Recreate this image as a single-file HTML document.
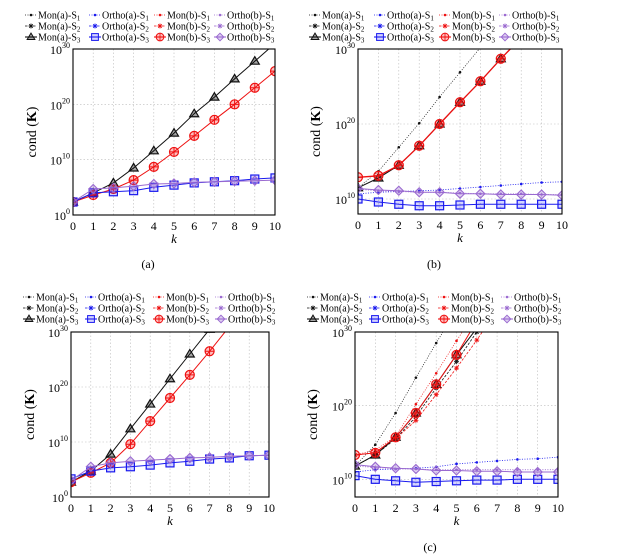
<!DOCTYPE html>
<html><head><meta charset="utf-8"><style>
html,body{margin:0;padding:0;background:#fff;}
svg{display:block;font-family:"Liberation Serif",serif;}
</style></head><body>
<svg id="fig" width="625" height="556" viewBox="0 0 625 556"></svg>
<script>
const categories=[0,1,2,3,4,5,6,7,8,9,10];
// panel (a) log10 values
const aMonA=[2.35,4,5.8,8.5,11.6,14.8,18.3,21.3,24.6,27.8,31];
const aMonB=[2.35,3.6,4.7,6.3,8.7,11.4,14.3,17.2,20,23,26];
const aOrthoA=[2.35,4,4.2,4.4,5,5.4,5.8,6,6.2,6.5,6.7];
const aOrthoB=[2.35,4.7,4.9,5.2,5.6,5.7,5.9,6,6.1,6.2,6.3];
// panel (b)
const bMonA1=[11.5,13.7,16.9,20.1,23.6,26.9,30.2,33,36,39,42];
const bMonA3=[11.5,12.8,14.5,17.1,20,22.9,25.7,28.7,31.5,34,37];
const bMonB=[12.9,13.1,14.5,17.1,20,22.9,25.7,28.7,31.5,34,37];
const bOrthoA1=[10.7,10.9,11,11.1,11.2,11.4,11.6,11.8,12,12.2,12.3];
const bOrthoA3=[10,9.6,9.3,9.1,9.1,9.2,9.3,9.3,9.3,9.3,9.3];
const bOrthoB1=[11.3,11.1,11,10.9,10.9,10.8,10.7,10.7,10.7,10.6,10.6];
const bOrthoB3=[11.4,11.2,11.1,10.9,10.9,10.7,10.7,10.6,10.6,10.6,10.5];
// panel (c) left
const cMonA=[2.7,4.7,7.8,12.4,16.9,21.5,26,30.5,35,39,43];
const cMonB=[2.7,4.4,6.2,9.6,13.8,18,22.2,26.5,31,35,39];
const cOrthoA=[3.3,4.7,5.3,5.5,5.8,6.2,6.5,6.9,7.1,7.5,7.6];
const cOrthoB=[3,5.5,6.2,6.5,6.7,6.9,7.1,7.2,7.4,7.5,7.6];
// panel (c) right
const dMonA1=[11.8,14.7,19,23.8,28.5,33,37,41,45,49,53];
const dMonA2=[11.8,13.3,15.5,18.5,22.4,26,30,34,38,42,46];
const dMonA3=[11.8,13.3,15.7,19,22.9,26.9,30.5,34,38,42,46];
const dMonB1=[13.3,14,15.8,20.2,24.4,28.8,33,37,41,45,49];
const dMonB2=[13.3,13.6,15.5,18,21.5,25.1,28.9,33,37,41,45];
const dMonB3=[13.3,13.6,15.7,19,22.9,26.9,31.5,35,39,43,47];
const dOrthoA1=[11,11.3,11.4,11.5,11.7,12.1,12.3,12.5,12.7,12.8,13];
const dOrthoA3=[10.5,10,9.8,9.6,9.7,9.8,9.9,9.9,10,10,10];
const dOrthoB1=[11.8,11.6,11.4,11.4,11.3,11.3,11.3,11.3,11.3,11.3,11.3];
const dOrthoB3=[12,11.7,11.5,11.4,11.2,11.2,11.1,11.1,11,11,11];
const ticksFull=[0,10,20,30];
const ticksPart=[10,20,30];

const NS="http://www.w3.org/2000/svg";
const svg=document.getElementById('fig');
const BLK='#111',RED='#ee1111',BLU='#1a1aee',PUR='#9a6ad0';
function el(t,a,p){const e=document.createElementNS(NS,t);for(const k in a)e.setAttribute(k,a[k]);(p||svg).appendChild(e);return e;}
function marker(g,type,x,y,c){
  if(type==='dot'){const m=el('circle',{cx:x,cy:y,r:1.3,fill:c},g);return m;}
  if(type==='star'){const m=el('path',{d:`M${x-2.5},${y}h5M${x},${y-2.5}v5M${x-1.8},${y-1.8}l3.6,3.6M${x+1.8},${y-1.8}l-3.6,3.6`,stroke:c,'stroke-width':0.8,fill:'none'},g);return m;}
  if(type==='tri'){return el('path',{d:`M${x},${y-4.5}L${x+4.5},${y+3}L${x-4.5},${y+3}Z`,stroke:c,'stroke-width':1.2,fill:'rgba(0,0,0,0.35)'},g);}
  if(type==='oplus'){const m=el('g',{},g);el('circle',{cx:x,cy:y,r:4.5,stroke:c,'stroke-width':1.2,fill:'rgba(255,0,0,0.25)'},m);el('path',{d:`M${x-4.5},${y}h9M${x},${y-4.5}v9`,stroke:c,'stroke-width':1},m);return m;}
  if(type==='square'){return el('rect',{x:x-4,y:y-4,width:8,height:8,stroke:c,'stroke-width':1.2,fill:'rgba(40,40,255,0.2)'},g);}
  if(type==='diamond'){return el('path',{d:`M${x},${y-4.5}L${x+4.5},${y}L${x},${y+4.5}L${x-4.5},${y}Z`,stroke:c,'stroke-width':1.1,fill:'rgba(150,100,210,0.3)'},g);}
}
let pid=0;
function panel(P){
  pid++;
  const g=el('g',{});
  
  
  const X=k=>P.l+(k-categories[0])*(P.r-P.l)/(categories[categories.length-1]-categories[0]);
  const Y=v=>P.b-(v-P.ymin)*(P.b-P.t)/(P.ymax-P.ymin);
  // grid
  const grid=el('g',{stroke:'#bbb','stroke-width':0.6,'stroke-dasharray':'1.5,2'},g);
  
  
  categories.forEach(k=>el('line',{x1:X(k),x2:X(k),y1:P.t,y2:P.b},grid));
  P.ticks.forEach(v=>el('line',{x1:P.l,x2:P.r,y1:Y(v),y2:Y(v)},grid));
  // clip
  const cp=el('clipPath',{id:'cp'+pid},g);el('rect',{x:P.l,y:P.t,width:P.r-P.l,height:P.b-P.t},cp);
  const plot=el('g',{'clip-path':`url(#cp${pid})`},g);
  P.series.forEach(s=>{
    const sg=el('g',{},plot);
    
    
    const d=s.data.map((v,i)=>(i?'L':'M')+X(categories[i]).toFixed(1)+','+Y(v).toFixed(1)).join('');
    const a={d:d,fill:'none',stroke:s.c,'stroke-width':s.w||1};
    if(s.dash)a['stroke-dasharray']=s.dash;
    el('path',a,sg);
    s.data.forEach((v,i)=>marker(sg,s.m,X(categories[i]),Y(v),s.c));
  });
  el('rect',{x:P.l,y:P.t,width:P.r-P.l,height:P.b-P.t,fill:'none',stroke:'#000','stroke-width':1.1},g);
  // ticks
  categories.forEach(k=>{
    const t=el('text',{x:X(k),y:P.b+15,'text-anchor':'middle','font-size':12},g);t.textContent=k;
    
    
  });
  P.ticks.forEach(v=>{
    const t=el('text',{x:P.l-3,y:Y(v)+5,'text-anchor':'end','font-size':12},g);
    t.innerHTML='10<tspan dy="-6" font-size="8">'+v+'</tspan>';
    
    
  });
  const xl=el('text',{x:(P.l+P.r)/2,y:P.b+28,'text-anchor':'middle','font-size':13,'font-style':'italic'},g);
  xl.textContent='k';
  
  
  const yl=el('text',{x:0,y:0,'text-anchor':'middle','font-size':14,transform:`translate(${P.yl},${(P.t+P.b)/2}) rotate(-90)`},g);
  yl.innerHTML='cond (<tspan font-weight="bold">K</tspan>)';
  
  
  // legend
  const lg=el('g',{'font-size':10},g);
  
  
  const names=[['Mon(a)',BLK],['Ortho(a)',BLU],['Mon(b)',RED],['Ortho(b)',PUR]];
  const mk=[['dot','star','tri'],['dot','star','square'],['dot','star','oplus'],['dot','star','diamond']];
  const dashes=[['1,1.5','2.5,1.5',null]];
  names.forEach((n,ci)=>{
    [0,1,2].forEach(ri=>{
      const y=P.lgy[ri];const tx=P.lgx[ci];
      const e=el('g',{},lg);
      
      
      const la={x1:tx-13,x2:tx-1,y1:y,y2:y,stroke:n[1],'stroke-width':ri==2?1.1:0.7};
      if(dashes[0][ri])la['stroke-dasharray']=dashes[0][ri];
      el('line',la,e);
      const mm=marker(e,mk[ci][ri],tx-7,y,n[1]);
      if(ri==2)mm.setAttribute('transform',`translate(${tx-7},${y}) scale(0.85) translate(${-(tx-7)},${-y})`);
      const t=el('text',{x:tx,y:y+3.5},e);
      t.innerHTML=n[0]+'-S<tspan dy="2" font-size="7">'+(ri+1)+'</tspan>';
    });
  });
  const cap=P.cap&&el('text',{x:P.capx,y:P.capy,'text-anchor':'middle','font-size':12},g);
  if(cap){cap.textContent=P.cap;}
}
panel({name:'panel-a',l:73,r:275,t:49,b:215,ymin:0,ymax:30,ticks:ticksFull,yl:36,
  lgx:[38,102,167,227],lgy:[15,26,37],cap:'(a)',capx:148,capy:268,
  series:[
   {id:'mon-a-s3',c:BLK,m:'tri',data:aMonA},
   {id:'mon-b-s3',c:RED,m:'oplus',data:aMonB},
   {id:'ortho-a-s3',c:BLU,m:'square',data:aOrthoA},
   {id:'ortho-b-s3',c:PUR,m:'diamond',data:aOrthoB}]});
panel({name:'panel-b',l:358,r:562,t:49,b:214,ymin:8,ymax:30,ticks:ticksPart,yl:320,
  lgx:[322,387,452,512],lgy:[15,26,37],cap:'(b)',capx:434,capy:268,
  series:[
   {id:'mon-a-s1',c:BLK,m:'dot',dash:'1,1.5',w:0.7,data:bMonA1},
   {id:'ortho-a-s1',c:BLU,m:'dot',dash:'1,1.5',w:0.8,data:bOrthoA1},
   {id:'ortho-b-s1',c:PUR,m:'dot',dash:'1,1.5',w:0.8,data:bOrthoB1},
   {id:'mon-a-s3',c:BLK,m:'tri',data:bMonA3},
   {id:'mon-b-s3',c:RED,m:'oplus',w:1.3,data:bMonB},
   {id:'ortho-a-s3',c:BLU,m:'square',data:bOrthoA3},
   {id:'ortho-b-s3',c:PUR,m:'diamond',data:bOrthoB3}]});
panel({name:'panel-c-left',l:71,r:269,t:332,b:497,ymin:0,ymax:30,ticks:ticksFull,yl:34,
  lgx:[36,98,166,228],lgy:[297,308,319],
  series:[
   {id:'mon-a-s3',c:BLK,m:'tri',data:cMonA},
   {id:'mon-b-s3',c:RED,m:'oplus',data:cMonB},
   {id:'ortho-a-s3',c:BLU,m:'square',data:cOrthoA},
   {id:'ortho-b-s3',c:PUR,m:'diamond',data:cOrthoB}]});
panel({name:'panel-c-right',l:355,r:558,t:332,b:497,ymin:7.6,ymax:30,ticks:ticksPart,yl:317,
  lgx:[320,382,451,514],lgy:[297,308,319],cap:'(c)',capx:430,capy:551,
  series:[
   {id:'mon-a-s1',c:BLK,m:'dot',dash:'1,1.5',w:0.7,data:dMonA1},
   {id:'mon-b-s1',c:RED,m:'dot',dash:'1,1.5',w:0.7,data:dMonB1},
   {id:'mon-a-s2',c:BLK,m:'star',dash:'2.5,1.5',w:0.8,data:dMonA2},
   {id:'mon-b-s2',c:RED,m:'star',dash:'2.5,1.5',w:0.8,data:dMonB2},
   {id:'ortho-a-s1',c:BLU,m:'dot',dash:'1,1.5',w:0.8,data:dOrthoA1},
   {id:'ortho-b-s1',c:PUR,m:'dot',dash:'1,1.5',w:0.8,data:dOrthoB1},
   {id:'mon-a-s3',c:BLK,m:'tri',data:dMonA3},
   {id:'mon-b-s3',c:RED,m:'oplus',data:dMonB3},
   {id:'ortho-a-s3',c:BLU,m:'square',data:dOrthoA3},
   {id:'ortho-b-s3',c:PUR,m:'diamond',data:dOrthoB3}]});
</script>
</body></html>
